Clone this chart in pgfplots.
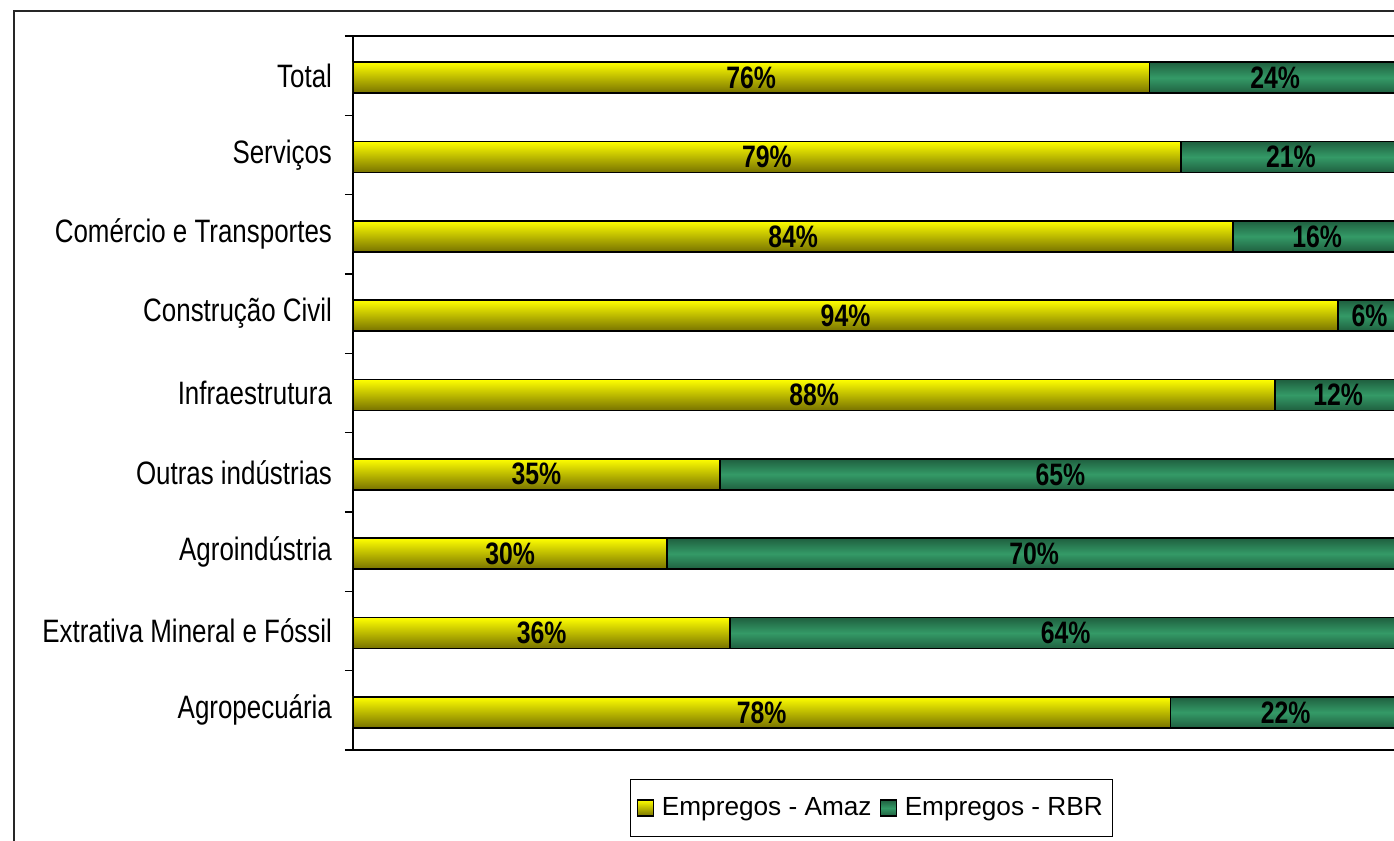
\documentclass[border=0pt]{standalone}
\usepackage{pgfplots}
\pgfplotsset{compat=1.18}
\usepackage{pgfplotstable}
\usepackage{fontspec}
\setmainfont{Liberation Sans}
\newfontfamily\narrowfont{Liberation Sans}[FakeStretch=0.8]

\definecolor{amazhi}{HTML}{FFFF00}
\definecolor{amazmid}{HTML}{D9D500}
\definecolor{amazlo}{HTML}{777200}
\definecolor{rbrmid}{HTML}{349A67}
\definecolor{rbredge}{HTML}{1F5F3F}

% share of jobs, bottom category first
\pgfplotstableread{
pos amaz rbr
0   78   22
1   36   64
2   30   70
3   35   65
4   88   12
5   94   6
6   84   16
7   79   21
8   76   24
}\shares

\pgfplotsset{
    amazbar/.style={xbar, bar width=15.5pt, bar shift=-1pt, draw=black, line width=0.9pt,
        top color=amazhi, middle color=amazmid, bottom color=amazlo},
    rbrbar/.style={xbar, bar width=15.5pt, bar shift=-1pt, draw=black, line width=0.9pt,
        top color=rbredge, bottom color=rbredge, middle color=rbrmid},
    pctlabel/.style={draw=none, mark=none, forget plot, point meta=explicit symbolic,
        nodes near coords={\pgfplotspointmeta\%},
        every node near coord/.append style={anchor=center, yshift=-1pt,
            font=\narrowfont\bfseries\fontsize{15.5}{17}\selectfont}},
}

\begin{document}
\begin{tikzpicture}
\begin{axis}[
    at={(0,0)}, anchor=south west,
    scale only axis,
    width=524pt, height=357pt,
    xmin=0, xmax=100,
    ymin=-0.5, ymax=8.5,
    xtick=\empty,
    ytick={0,...,8},
    yticklabels={Agropecuária, Extrativa Mineral e Fóssil, Agroindústria, Outras indústrias, Infraestrutura, Construção Civil, Comércio e Transportes, Serviços, Total},
    minor ytick={-0.5,0.5,...,8.5},
    ytick pos=left,
    major tick length=0pt,
    minor tick length=4pt,
    tick align=outside,
    tick style={black, line width=0.6pt},
    axis line style={black, line width=0.6pt},
    yticklabel style={font=\narrowfont\fontsize{16.2}{18}\selectfont, xshift=-7pt},
    legend style={at={(0.495,0)}, anchor=north, yshift=-14.5pt,
        legend columns=2, draw=black, line width=0.5pt,
        font=\fontsize{13.1}{15}\selectfont,
        inner xsep=3pt, inner ysep=7pt,
        /tikz/every odd column/.append style={column sep=2pt},
        /tikz/every even column/.append style={column sep=2pt}},
    legend image code/.code={\draw[#1, line width=0.6pt] (0pt,-4pt) rectangle (8pt,4pt);},
]
% RBR bars run from 0 to Amaz + RBR and sit under the Amaz bars,
% one plot per bar so that each bar gets its own shading
\pgfplotsinvokeforeach{0,...,8}{
  \addplot[rbrbar, forget plot] table[x expr=\thisrow{amaz}+\thisrow{rbr}, y=pos,
      restrict expr to domain={\coordindex}{#1:#1}] {\shares};
  \addplot[amazbar, forget plot] table[x=amaz, y=pos,
      restrict expr to domain={\coordindex}{#1:#1}] {\shares};
}
% percentage labels in the middle of each segment
\addplot[pctlabel] table[x expr=\thisrow{amaz}/2, y=pos, meta=amaz] {\shares};
\addplot[pctlabel] table[x expr=\thisrow{amaz}+\thisrow{rbr}/2, y=pos, meta=rbr] {\shares};
\addlegendimage{top color=amazhi, middle color=amazmid, bottom color=amazlo, draw=black}
\addlegendentry{Empregos - Amaz}
\addlegendimage{top color=rbredge, bottom color=rbredge, middle color=rbrmid, draw=black}
\addlegendentry{Empregos - RBR}
\end{axis}
% outer chart frame, only its left and top edges fall inside the picture
\draw[black!85, line width=0.6pt] (-169.5pt,-100pt) rectangle (700pt,369.5pt);
\pgfresetboundingbox
\useasboundingbox (-176.5pt,-45.5pt) rectangle (520.5pt,375pt);
\end{tikzpicture}
\end{document}
